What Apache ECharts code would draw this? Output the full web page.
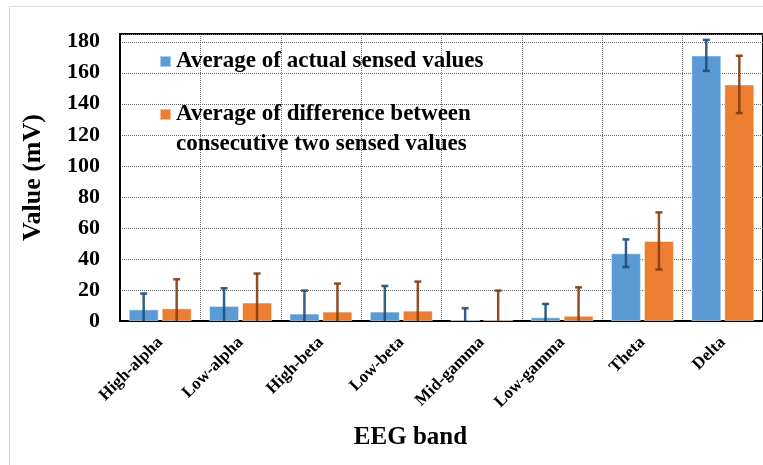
<!DOCTYPE html>
<html>
<head>
<meta charset="utf-8">
<script src="https://cdn.jsdelivr.net/npm/echarts@6/dist/echarts.min.js"></script>
<style>html,body{margin:0;padding:0;background:#fff}#c{width:763px;height:465px}</style>
</head>
<body>
<div id="c"></div>
<script>
const categories = ['High-alpha','Low-alpha','High-beta','Low-beta','Mid-gamma','Low-gamma','Theta','Delta'];
const seriesNames = ['Average of actual sensed values','Average of difference between consecutive two sensed values'];
const actualValues = [7.5, 9.7, 4.8, 6.1, 0.9, 2.4, 43.7, 171.2];
const actualErrors = [10.2, 11.4, 14.8, 16.5, 7.3, 8.6, 8.9, 10.0];
const diffValues = [8.2, 11.9, 6.1, 6.7, 0.9, 3.4, 51.6, 152.5];
const diffErrors = [18.7, 18.7, 18.0, 18.7, 18.7, 18.3, 18.4, 18.5];
const yTicks = [0, 20, 40, 60, 80, 100, 120, 140, 160, 180];

const FONT = '"Liberation Serif", "Times New Roman", serif';
const BAR_W = 30, GAP = 3;

function errSeries(vals, errs, offset, color) {
  return {
    type: 'custom',
    z: 10,
    data: vals.map((v, i) => [i, v, errs[i]]),
    encode: { x: 0, y: 1 },
    renderItem: function (params, api) {
      const i = api.value(0), v = api.value(1), e = api.value(2);
      const x = api.coord([i, 0])[0] + offset;
      const yHi = api.coord([i, v + e])[1];
      const lowVal = Math.max(0, v - e);
      const yLo = api.coord([i, lowVal])[1];
      const cap = 3.5;
      const style = { stroke: color, lineWidth: 2.5, opacity: 0.9 };
      const children = [
        { type: 'line', shape: { x1: x, y1: yHi, x2: x, y2: yLo }, style: style },
        { type: 'line', shape: { x1: x - cap, y1: yHi, x2: x + cap, y2: yHi }, style: style }
      ];
      if (v - e > 0) {
        children.push({ type: 'line', shape: { x1: x - cap, y1: yLo, x2: x + cap, y2: yLo }, style: style });
      }
      return { type: 'group', children: children };
    }
  };
}

const chart = echarts.init(document.getElementById('c'));
chart.setOption({
  animation: false,
  backgroundColor: '#fff',
  textStyle: { fontFamily: FONT },
  graphic: [{
    type: 'rect', z: -10, silent: true,
    shape: { x: 9.5, y: 6.5, width: 800, height: 500 },
    style: { fill: 'none', stroke: '#d9d9d9', lineWidth: 1 }
  }],
  grid: { left: 120, right: -2, top: 34, bottom: 144, show: true, borderColor: '#000', borderWidth: 2, backgroundColor: 'transparent' },
  legend: {
    orient: 'vertical',
    left: 159, top: 50, padding: 0,
    itemWidth: 11, itemHeight: 11, itemGap: 0,
    icon: 'rect',
    data: seriesNames,
    formatter: function (name) {
      if (name === seriesNames[0]) return '{f|' + name + '}';
      return '{t| }\n{t|Average of difference between}\n{t|consecutive two sensed values}';
    },
    textStyle: {
      fontFamily: FONT, fontWeight: 'bold', fontSize: 23, color: '#000',
      rich: {
        f: { fontFamily: FONT, fontWeight: 'bold', fontSize: 23, lineHeight: 20, color: '#000' },
        t: { fontFamily: FONT, fontWeight: 'bold', fontSize: 23, lineHeight: 30, color: '#000' }
      }
    }
  },
  xAxis: {
    type: 'category',
    data: categories,
    name: 'EEG band',
    nameLocation: 'middle',
    nameGap: 104,
    nameTextStyle: { fontFamily: FONT, fontWeight: 'bold', fontSize: 25, color: '#000', padding: [0, 62, 0, 0] },
    axisLine: { lineStyle: { color: '#000', width: 2 } },
    axisTick: { show: false },
    splitLine: { show: true, lineStyle: { color: '#666', type: 'dotted', width: 1 } },
    axisLabel: { rotate: 45, margin: 19, interval: 0, fontFamily: FONT, fontWeight: 'bold', fontSize: 17, color: '#000' }
  },
  yAxis: {
    type: 'value',
    min: 0, max: 185, interval: 20,
    name: 'Value (mV)',
    nameLocation: 'middle',
    nameGap: 74,
    nameTextStyle: { fontFamily: FONT, fontWeight: 'bold', fontSize: 26, color: '#000' },
    axisLine: { show: true, lineStyle: { color: '#000', width: 2 } },
    axisTick: { show: false },
    splitLine: { lineStyle: { color: '#666', type: 'dotted', width: 1 } },
    axisLabel: {
      margin: 20, showMaxLabel: false, fontFamily: FONT, fontWeight: 'bold', fontSize: 22, color: '#000',
      formatter: function (v) { return yTicks.indexOf(v) >= 0 ? String(v) : ''; }
    }
  },
  series: [
    { name: seriesNames[0], type: 'bar', data: actualValues, barWidth: BAR_W, barGap: (GAP / BAR_W * 100) + '%',
      itemStyle: { color: '#5B9BD5', borderColor: 'rgba(255,255,255,0.5)', borderWidth: 1 } },
    { name: seriesNames[1], type: 'bar', data: diffValues, barWidth: BAR_W,
      itemStyle: { color: '#ED7D31', borderColor: 'rgba(255,255,255,0.5)', borderWidth: 1 } },
    errSeries(actualValues, actualErrors, -(BAR_W + GAP) / 2, '#1F4E79'),
    errSeries(diffValues, diffErrors, (BAR_W + GAP) / 2, '#843C0C')
  ]
});
</script>
</body>
</html>
